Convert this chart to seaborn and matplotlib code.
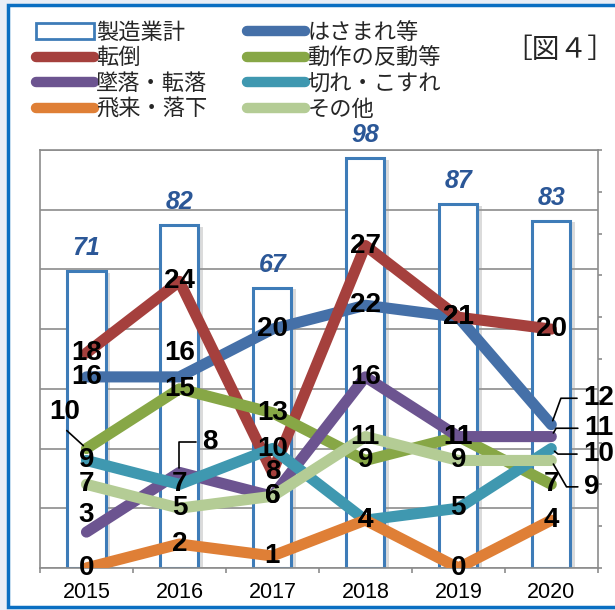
import pandas as pd
import matplotlib.pyplot as plt
import seaborn as sns
import numpy as np
from matplotlib.patches import Patch, Rectangle
from matplotlib.lines import Line2D
import matplotlib.patheffects as pe

# values
years = ['2015', '2016', '2017', '2018', '2019', '2020']
total = [71, 82, 67, 98, 87, 83]            # 製造業計 (bars)
hasamare = [16, 16, 20, 22, 21, 12]         # はさまれ等
tentou = [18, 24, 8, 27, 21, 20]            # 転倒
dousa = [10, 15, 13, 9, 11, 7]              # 動作の反動等
tsuiraku = [3, 8, 6, 16, 11, 11]            # 墜落・転落
kire = [9, 7, 10, 4, 5, 10]                 # 切れ・こすれ
hirai = [0, 2, 1, 4, 0, 4]                  # 飛来・落下
sonota = [7, 5, 6, 11, 9, 9]                # その他

series = {
    'はさまれ等': hasamare,
    '転倒': tentou,
    '動作の反動等': dousa,
    '墜落・転落': tsuiraku,
    '切れ・こすれ': kire,
    '飛来・落下': hirai,
    'その他': sonota,
}
colors = {
    'はさまれ等': '#4570A8',
    '転倒': '#A5403D',
    '動作の反動等': '#87A746',
    '墜落・転落': '#6C5490',
    '切れ・こすれ': '#3F98B0',
    '飛来・落下': '#DF7F36',
    'その他': '#B4CC95',
}

df_bar = pd.DataFrame({'年': years, '件数': total})
df_lines = pd.DataFrame([
    {'分類': name, 'pos': i, '件数': v}
    for name, vals in series.items() for i, v in enumerate(vals)
])

sns.set_theme(style='white')
plt.rcParams['font.family'] = ['Liberation Sans', 'Noto Sans CJK JP']

fig = plt.figure(figsize=(6.15, 6.10), dpi=100)
fig.patch.set_facecolor('#E9EEF6')
fig.patches.append(Rectangle((8 / 615, 3 / 610), 1.0, 1 - 8 / 610,
                             transform=fig.transFigure, facecolor='white',
                             edgecolor='#0A6FC2', lw=2.5, zorder=-1))

ax = fig.add_axes([0.065, 0.069, 0.907, 0.685])
ax.set_facecolor('none')

# bars on primary axis (0-100)
sns.barplot(data=df_bar, x='年', y='件数', ax=ax, color='white', saturation=1,
            width=0.41, edgecolor='#3E7CB8', linewidth=2.2, zorder=2)
for p in ax.patches:
    p.set_path_effects([pe.SimplePatchShadow(offset=(3, -1), shadow_rgbFace='#999999', alpha=0.35),
                        pe.Normal()])
for i, v in enumerate(total):
    ax.annotate(str(v), (i, v), xytext=(0, 8), textcoords='offset points',
                ha='center', va='bottom', fontsize=18, fontweight='bold',
                style='italic', color='#2B5797')

ax.set_ylim(0, 100)
ax.set_yticks(np.linspace(0, 100, 8))
ax.yaxis.grid(True, color='#8C8C8C', lw=1.2)
ax.set_axisbelow(True)
ax.tick_params(axis='y', length=0, labelleft=False)
ax.set_xlim(-0.5, 5.5)
ax.set_xticks(range(len(years)))
ax.set_xticklabels(years)
ax.set_xticks(np.arange(-0.5, 5.6, 1), minor=True)
ax.tick_params(axis='x', which='major', length=0, pad=10, labelsize=15.5, labelcolor='black')
ax.tick_params(axis='x', which='minor', length=3.5, width=1.2, color='#8C8C8C', bottom=True)
ax.set_xlabel('')
ax.set_ylabel('')
for s in ['left', 'bottom', 'top']:
    ax.spines[s].set_color('#8C8C8C')
    ax.spines[s].set_linewidth(1.2)
ax.spines['right'].set_visible(False)

# lines on twin axis (0-35)
ax2 = ax.twinx()
sns.lineplot(data=df_lines, x='pos', y='件数', hue='分類', hue_order=list(series),
             palette=colors, ax=ax2, linewidth=8, legend=False, sort=False,
             solid_capstyle='round', solid_joinstyle='round')
ax2.set_xlim(-0.5, 5.5)
ax2.set_ylim(0, 35)
ax2.set_yticks(np.arange(0, 35.1, 3.5))
ax2.tick_params(axis='y', right=True, length=3, width=1.2, color='#8C8C8C', labelright=False)
ax2.set_xlabel('')
ax2.set_ylabel('')
for s in ['left', 'bottom', 'top']:
    ax2.spines[s].set_visible(False)
ax2.spines['right'].set_color('#8C8C8C')
ax2.spines['right'].set_linewidth(1.2)

# data labels: default centred on the point; some moved or with leader lines
lab_kw = dict(textcoords='offset points', ha='center', va='center',
              fontsize=20, fontweight='bold', color='black', zorder=10)
moved = {('はさまれ等', 1): (0, 17), ('墜落・転落', 0): (0, 12)}
leaders = {
    ('動作の反動等', 0): ((-16, 26), 'arc3', (0.4, 0.0)),
    ('墜落・転落', 1): ((22, 22), 'angle,angleA=0,angleB=90,rad=0', (0.0, 0.5)),
    ('はさまれ等', 5): ((34, 19), 'angle,angleA=0,angleB=70,rad=0', (0.0, 0.5)),
    ('墜落・転落', 5): ((34, 6), 'angle,angleA=0,angleB=60,rad=0', (0.0, 0.5)),
    ('切れ・こすれ', 5): ((34, -4), 'angle,angleA=0,angleB=-40,rad=0', (0.0, 0.5)),
    ('その他', 5): ((29, -19), 'angle,angleA=0,angleB=-60,rad=0', (0.0, 0.5)),
}
for name, vals in series.items():
    for i, v in enumerate(vals):
        key = (name, i)
        if key in leaders:
            off, conn, rel = leaders[key]
            ax2.annotate(str(v), (i, v), xytext=off,
                         arrowprops=dict(arrowstyle='-', color='black', lw=1.2,
                                         connectionstyle=conn, relpos=rel,
                                         shrinkA=2, shrinkB=3),
                         **lab_kw)
        else:
            ax2.annotate(str(v), (i, v), xytext=moved.get(key, (0, 0)), **lab_kw)

# legend (two columns, filled top-down)
order = ['製造業計', '転倒', '墜落・転落', '飛来・落下', 'はさまれ等', '動作の反動等', '切れ・こすれ', 'その他']
handles = []
for name in order:
    if name == '製造業計':
        handles.append(Patch(facecolor='white', edgecolor='#3E7CB8', lw=2))
    else:
        handles.append(Line2D([], [], color=colors[name], lw=7.5, solid_capstyle='round'))
fig.legend(handles, order, ncol=2, loc='upper left', bbox_to_anchor=(36 / 615, 1 - 23 / 610),
           frameon=False, fontsize=16, handlelength=2.6, handletextpad=0.1,
           labelspacing=0.2, columnspacing=1.8, borderpad=0, borderaxespad=0)

fig.text(560 / 615, 1 - 50 / 610, '［図４］', ha='center', va='center', fontsize=20,
         family=['Noto Sans CJK JP'])

fig.savefig('out.png', dpi=100, facecolor=fig.get_facecolor())
